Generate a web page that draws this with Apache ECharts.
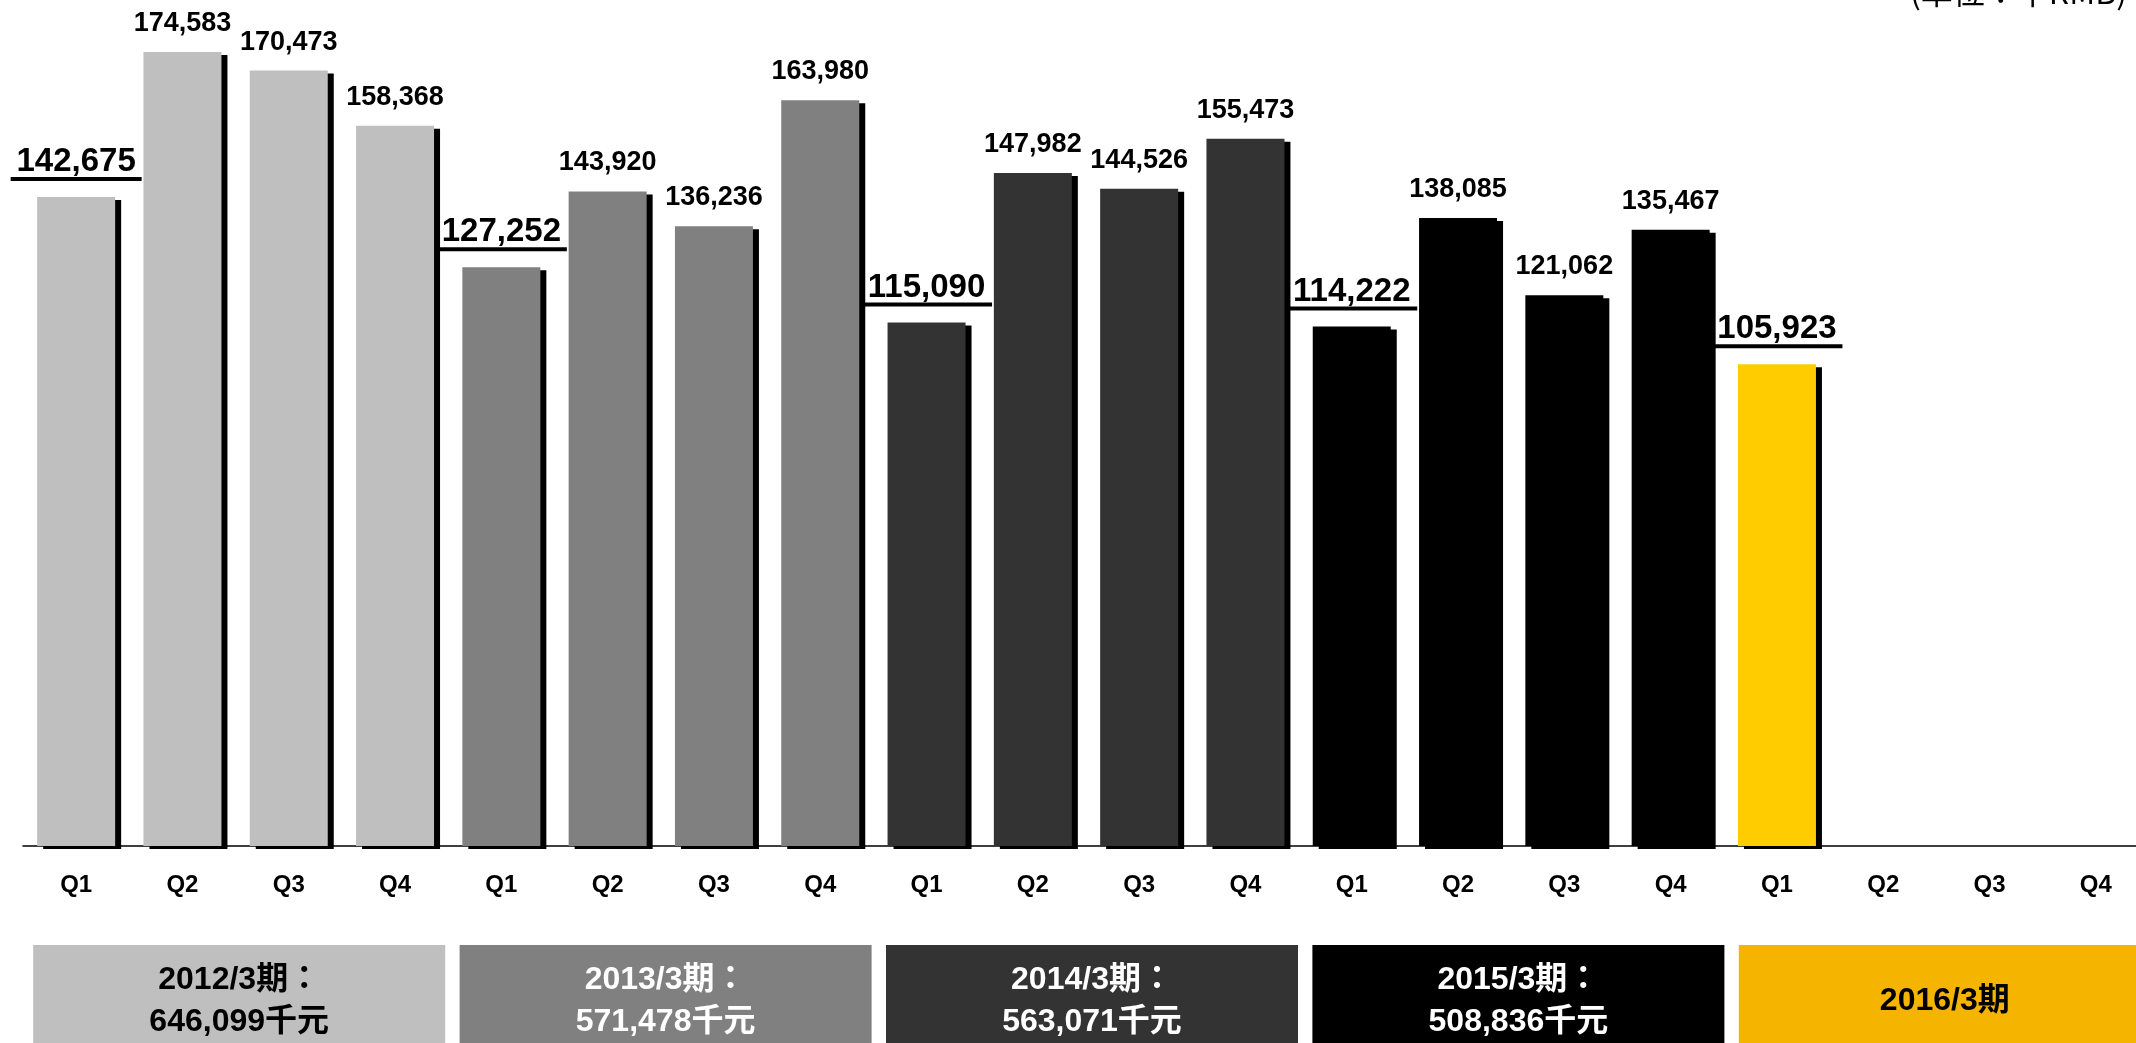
<!DOCTYPE html>
<html>
<head>
<meta charset="utf-8">
<script src="https://cdn.jsdelivr.net/npm/echarts@6/dist/echarts.min.js"></script>
<style>
  html, body { margin: 0; padding: 0; background: #fff; }
  #chart { width: 2136px; height: 1043px; }
</style>
</head>
<body>
<div id="chart"></div>
<script>
// 四半期売上（千RMB）
const quarters = ['Q1', 'Q2', 'Q3', 'Q4', 'Q1', 'Q2', 'Q3', 'Q4', 'Q1', 'Q2',
                  'Q3', 'Q4', 'Q1', 'Q2', 'Q3', 'Q4', 'Q1', 'Q2', 'Q3', 'Q4']
const sales = [142675, 174583, 170473, 158368,
               127252, 143920, 136236, 163980,
               115090, 147982, 144526, 155473,
               114222, 138085, 121062, 135467,
               105923, null, null, null]
const fiscalYears = ['2012/3期', '2013/3期', '2014/3期', '2015/3期', '2016/3期']
const yearTotals = ['646,099', '571,478', '563,071', '508,836', null]
const barColors = ['#bfbfbf', '#808080', '#333333', '#000000', '#ffcc00']
const boxColors = ['#bfbfbf', '#808080', '#333333', '#000000', '#f5b400']
const boxTextColors = ['#000', '#fff', '#fff', '#fff', '#000']

const FONT = "'Liberation Sans', 'Noto Sans CJK JP', sans-serif"

const fmt = v => v.toLocaleString('en-US')

// 棒データ（年度ごとに色分け、各年度Q1は下線付きの大きいラベル）
const barData = sales.map((v, i) => {
  const y = Math.floor(i / 4)
  const first = i % 4 === 0
  return {
    value: v,
    itemStyle: { color: barColors[y] },
    label: {
      distance: first ? 16 : 15,
      formatter: first ? '{big|' + (v == null ? '' : fmt(v)) + '}\n{u| }' : '{small|' + (v == null ? '' : fmt(v)) + '}'
    }
  }
})

// 下の年度ボックス
const boxData = fiscalYears.map((name, i) => ({
  value: 1,
  itemStyle: { color: boxColors[i] },
  label: {
    color: boxTextColors[i],
    formatter: yearTotals[i] ? name + '：\n' + yearTotals[i] + '千元' : name
  }
}))

const chart = echarts.init(document.getElementById('chart'))
chart.setOption({
  animation: false,
  backgroundColor: '#fff',
  grid: [
    { left: 23, width: 2126, top: 0, height: 846, outerBoundsMode: 'none' },
    { left: 26, width: 2132, top: 945, height: 112, outerBoundsMode: 'none' }
  ],
  xAxis: [
    {
      type: 'category',
      gridIndex: 0,
      data: quarters,
      axisTick: { show: false },
      axisLine: { lineStyle: { color: '#000', width: 1.5 } },
      axisLabel: {
        margin: 27,
        color: '#000',
        fontSize: 24,
        fontWeight: 'bold',
        fontFamily: FONT,
        interval: 0
      }
    },
    { type: 'category', gridIndex: 1, data: fiscalYears, show: false }
  ],
  yAxis: [
    { type: 'value', gridIndex: 0, min: 0, max: 186000, show: false },
    { type: 'value', gridIndex: 1, min: 0, max: 1, show: false }
  ],
  graphic: [
    {
      type: 'text',
      right: 9,
      top: -24,
      style: {
        text: '(単位：千RMB)',
        fill: '#000',
        font: "32px 'Noto Sans CJK JP', sans-serif"
      }
    }
  ],
  series: [
    {
      type: 'bar',
      xAxisIndex: 0,
      yAxisIndex: 0,
      barWidth: 78,
      data: barData,
      itemStyle: {
        shadowColor: '#000',
        shadowBlur: 0,
        shadowOffsetX: 6,
        shadowOffsetY: 3
      },
      label: {
        show: true,
        position: 'top',
        color: '#000',
        fontFamily: FONT,
        rich: {
          small: { fontSize: 27, fontWeight: 'bold', lineHeight: 27, fontFamily: FONT, color: '#000' },
          big: { fontSize: 33, fontWeight: 'bold', lineHeight: 30, fontFamily: FONT, color: '#000' },
          u: { width: 131, height: 4, lineHeight: 4, fontSize: 1, backgroundColor: '#000' }
        }
      }
    },
    {
      type: 'bar',
      xAxisIndex: 1,
      yAxisIndex: 1,
      barWidth: 412,
      data: boxData,
      silent: true,
      label: {
        show: true,
        position: 'inside',
        fontSize: 32,
        fontWeight: 'bold',
        lineHeight: 42,
        fontFamily: FONT
      }
    }
  ]
})
</script>
</body>
</html>
